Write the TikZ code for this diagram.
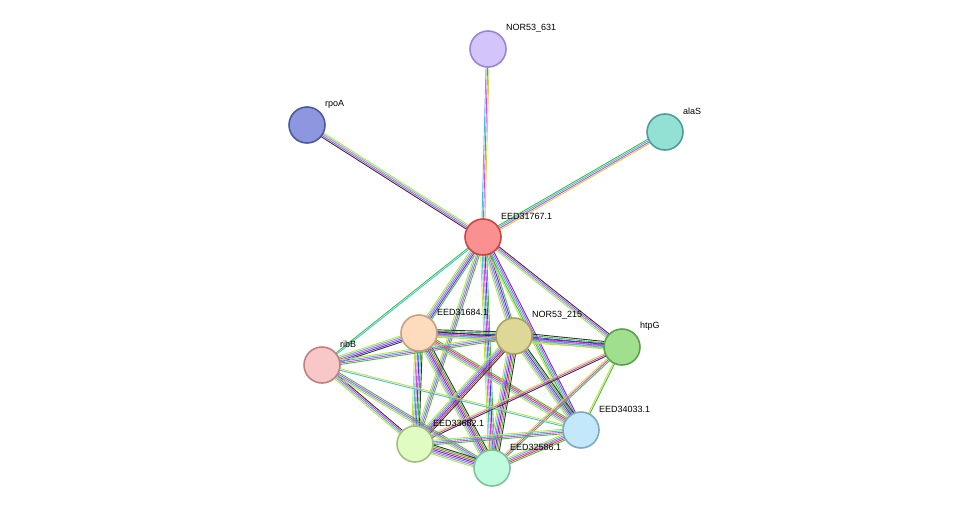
\documentclass[tikz,border=0pt]{standalone}
\usepackage{fontspec}
\setmainfont{Liberation Sans}
\usetikzlibrary{calc}
\definecolor{cY}{HTML}{C8DC40}
\definecolor{cM}{HTML}{E040E0}
\definecolor{cC}{HTML}{40C0E0}
\definecolor{cB}{HTML}{4040E0}
\definecolor{cK}{HTML}{333333}
\definecolor{cG}{HTML}{40C040}
\definecolor{cR}{HTML}{E04040}
\definecolor{f631}{HTML}{D4C4FC}\definecolor{d631}{HTML}{9A86CF}
\definecolor{frpoA}{HTML}{8F96E0}\definecolor{drpoA}{HTML}{4A5A9A}
\definecolor{falaS}{HTML}{93E0D5}\definecolor{dalaS}{HTML}{4F9E94}
\definecolor{f767}{HTML}{FB9090}\definecolor{d767}{HTML}{CC4444}
\definecolor{f684}{HTML}{FDDCBD}\definecolor{d684}{HTML}{C8A080}
\definecolor{f215}{HTML}{DDD897}\definecolor{d215}{HTML}{A8A460}
\definecolor{fhtpG}{HTML}{9FDF8E}\definecolor{dhtpG}{HTML}{5EA050}
\definecolor{fribB}{HTML}{F8C8C8}\definecolor{dribB}{HTML}{C08080}
\definecolor{f033}{HTML}{C3E7FB}\definecolor{d033}{HTML}{80A8C0}
\definecolor{f682}{HTML}{E0FCC2}\definecolor{d682}{HTML}{A0C080}
\definecolor{f586}{HTML}{BFFCDD}\definecolor{d586}{HTML}{80C0A0}
\tikzset{
  prot/.style={circle, minimum size=36pt, inner sep=0pt, line width=1.6pt, fill=f#1, draw=d#1},
  plabel/.style={font=\fontsize{9pt}{10pt}\selectfont, anchor=west, inner sep=0pt},
}
% multicoloured link between two named nodes
\newcommand\strlink[4]{%
  \foreach \c [count=\i] in {#4} {%
    \pgfmathsetmacro\off{(\i-(#3+1)/2)*1.5}
    \draw[\c, line width=0.9pt] ($(#1)!\off pt!90:(#2)$) -- ($(#2)!\off pt!-90:(#1)$);
  }}
\begin{document}
\begin{tikzpicture}[x=1pt, y=-1pt]
    \useasboundingbox (0,0) rectangle (976,514);
    \coordinate (n631) at (488,49);
    \coordinate (rpoA) at (307,125);
    \coordinate (alaS) at (665,132);
    \coordinate (e767) at (483,237);
    \coordinate (e684) at (419,333);
    \coordinate (n215) at (514,336);
    \coordinate (htpG) at (622,347);
    \coordinate (ribB) at (322,365);
    \coordinate (e033) at (581,430);
    \coordinate (e682) at (415,444);
    \coordinate (e586) at (492,468);

    % links
    \strlink{e767}{n631}{3}{cY,cM,cC}
    \strlink{e767}{rpoA}{4}{cY,cC,cM,cK}
    \strlink{e767}{alaS}{4}{cY,cM,cC,cG}
    \strlink{e767}{htpG}{4}{cY,cC,cM,cK}
    \strlink{e767}{ribB}{2}{cG,cC}
    \strlink{e767}{e684}{5}{cY,cC,cM,cB,cG}
    \strlink{e767}{n215}{5}{cY,cC,cM,cB,cG}
    \strlink{e767}{e033}{5}{cY,cG,cC,cM,cB}
    \strlink{e767}{e682}{4}{cY,cC,cM,cG}
    \strlink{e767}{e586}{5}{cY,cC,cM,cB,cG}
    \strlink{e684}{n215}{6}{cY,cC,cM,cB,cG,cK}
    \strlink{e684}{htpG}{4}{cY,cC,cM,cK}
    \strlink{e684}{ribB}{5}{cY,cC,cM,cB,cK}
    \strlink{e684}{e033}{5}{cY,cC,cM,cR,cG}
    \strlink{e684}{e682}{6}{cY,cC,cM,cB,cG,cK}
    \strlink{e684}{e586}{7}{cY,cC,cM,cB,cR,cG,cK}
    \strlink{n215}{htpG}{6}{cY,cC,cM,cB,cG,cK}
    \strlink{n215}{ribB}{4}{cY,cC,cM,cG}
    \strlink{n215}{e033}{6}{cY,cC,cM,cB,cG,cK}
    \strlink{n215}{e682}{6}{cY,cC,cM,cB,cR,cK}
    \strlink{n215}{e586}{7}{cY,cC,cM,cB,cR,cG,cK}
    \strlink{htpG}{e033}{2}{cY,cG}
    \strlink{htpG}{e682}{3}{cY,cM,cK}
    \strlink{htpG}{e586}{3}{cY,cM,cG}
    \strlink{ribB}{e033}{2}{cC,cY}
    \strlink{ribB}{e682}{4}{cY,cC,cM,cK}
    \strlink{ribB}{e586}{4}{cY,cC,cM,cG}
    \strlink{e033}{e682}{4}{cY,cC,cM,cG}
    \strlink{e033}{e586}{5}{cY,cC,cM,cR,cG}
    \strlink{e682}{e586}{7}{cY,cC,cM,cB,cR,cG,cK}

    % proteins
    \node[prot=631] (p631) at (n631) {};
    \node[prot=rpoA] (prpoA) at (rpoA) {};
    \node[prot=alaS] (palaS) at (alaS) {};
    \node[prot=767] (p767) at (e767) {};
    \node[prot=684] (p684) at (e684) {};
    \node[prot=215] (p215) at (n215) {};
    \node[prot=htpG] (phtpG) at (htpG) {};
    \node[prot=ribB] (pribB) at (ribB) {};
    \node[prot=033] (p033) at (e033) {};
    \node[prot=682] (p682) at (e682) {};
    \node[prot=586] (p586) at (e586) {};

    % labels
    \node[plabel] at ($(p631)+(18,-21)$) {NOR53\_631};
    \node[plabel] at ($(prpoA)+(18,-21)$) {rpoA};
    \node[plabel] at ($(palaS)+(18,-21)$) {alaS};
    \node[plabel] at ($(p767)+(18,-21)$) {EED31767.1};
    \node[plabel] at ($(p684)+(18,-21)$) {EED31684.1};
    \node[plabel] at ($(p215)+(18,-21)$) {NOR53\_215};
    \node[plabel] at ($(phtpG)+(18,-21)$) {htpG};
    \node[plabel] at ($(pribB)+(18,-21)$) {ribB};
    \node[plabel] at ($(p033)+(18,-21)$) {EED34033.1};
    \node[plabel] at ($(p682)+(18,-21)$) {EED33682.1};
    \node[plabel] at ($(p586)+(18,-21)$) {EED32586.1};
\end{tikzpicture}
\end{document}
